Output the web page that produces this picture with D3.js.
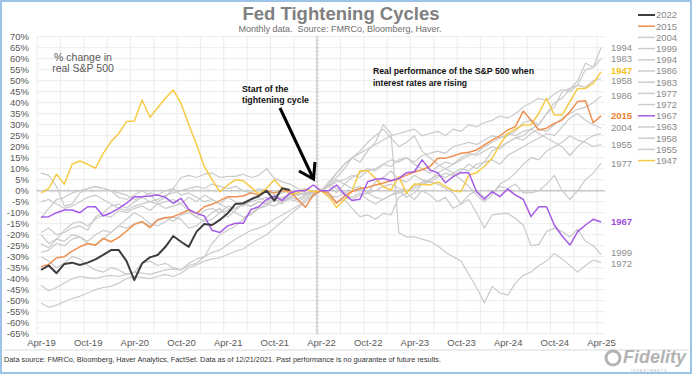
<!DOCTYPE html>
<html>
<head>
<meta charset="utf-8">
<script src="https://cdn.jsdelivr.net/npm/d3@7"></script>
<style>
  body { margin: 0; background: #fff; }
  text { font-family: Arial, "Liberation Sans", sans-serif; white-space: pre; }
</style>
</head>
<body>
<div id="main"></div>
<script>
// x ticks, every 6 months from Apr-19 (month index 0) to Apr-25 (month 72)
var xTickLabels = ["Apr-19", "Oct-19", "Apr-20", "Oct-20", "Apr-21", "Oct-21", "Apr-22",
                   "Oct-22", "Apr-23", "Oct-23", "Apr-24", "Oct-24", "Apr-25"];
var yTicks = d3.range(-65, 71, 5);

// real S&P 500 % change, monthly, cycle start aligned at month 36 (Apr-22)
var s2022 = [-36, -34, -37.5, -33.3, -32.7, -33.8, -32.7, -31.2, -29.2, -27, -27, -32, -40.6, -33, -30.3, -29.2, -25.5,
             -20.6, -23.2, -25.5, -18.6, -15.1, -15.6, -13.3, -10.3, -6, -5.7, -3.9, -2.4, 0, -4.5, 1.1, 0.3];
var s2015 = [-34.5, -33.5, -30.5, -30, -27.5, -25.5, -24, -24.7, -21.7, -23.2, -21.2, -18.3, -15.3, -14.1, -16.8, -13.3, -12.3, -11.8, -10.3,
             -8.8, -10.3, -7.3, -6.2, -4.5, -2.7, -2.7, -2.4, -1, -2, 0, -1, 0, 0, -4, -7.5, -2, 0,
             -1, -5.7, -2.5, -0.4, 1, 1.5, 2.6, 3.5, 4.5, 5.5, 7.1, 8.5, 9.5, 11, 14.7, 14.8, 15.8, 17, 17.5, 18.5,
             20.8, 23, 24.9, 27.6, 29.1, 36.2, 32.1, 27.6, 28.4, 30.6, 32.1, 35.9, 40.5, 40.9, 30.9, 34];
var s2004 = [8, 7, 2, -7, -6, -1, 1, 2, 1, 0, -3, -4, -2, 0, -2, -5, -3, 1, 6, 7, 6, 7.5, 8, 6, 6.5, 6.5, 7.5, 6, 7, 10, 5.6, 4, 3, 1, -1, -1, 0,
             -2, -3, -1, 0, 1, -1, 0, 2, 3, 1, 0, 2, 4, 5, 7, 6, 8, 10, 9, 12, 13, 14, 12, 16, 18, 20, 22, 24, 26, 25, 29, 33, 35, 32, 30, 28.5];
var s1999 = [-51, -53, -52, -50.5, -49, -48, -46.5, -45, -44, -43.5, -42, -40, -39, -39.5, -40, -39, -38, -39, -37.5, -35, -33.8, -32,
             -31, -30.5, -29, -27.5, -26.5, -24, -22, -20, -17, -14, -11, -8, -5, -2.5, 0,
             2, -1, 3, 1, 2, -1, 4, 6, 9, 5, 4, 7, 5, 4, 3, 1, -1, -6, -4, -10, -17, -11, -10.5, -10.3, -12.6, -15.6, -25, -24.5,
             -18.6, -17, -18.6, -21, -17.5, -23, -25, -29];
var s1994 = [-43, -45.5, -44, -42, -40, -39, -39.5, -40, -39, -38.5, -39, -38, -37, -37.5, -38, -37, -36, -35.5, -36, -33, -31, -30,
             -28, -27, -24.5, -22, -20, -18, -17, -15.5, -13, -11, -9, -7, -4, -2, 0,
             -3, -5, -3, -4, -2, -1, -3, -4, -2, -1, 0, 1, 3, 5, 8, 10, 12, 14, 16, 17, 20, 22, 24, 25, 27, 31, 32, 30, 35, 40, 42, 46, 50, 58, 56, 65];
var s1986 = [-24, -26, -22, -23, -20, -21, -24, -25, -22, -19, -16, -13, -10, -12, -15, -16, -14, -12, -13, -17, -16, -13, -10, -8, -12,
             -9, -6, -7, -5, -6, -3, -4, -2, 0, 1, -1, 0,
             2, 5, 3, 6, 8, 10, 9, 12, 14, 13, 15, 12, 10, 8, 11, 13, 12, 15, 17, 16, 18, 20, 19, 22, 24, 23, 26, 28, 27, 30, 33, 35, 37, 38, 40, 43];
var s1983 = [-30, -32, -35, -33, -30, -31, -34, -36, -37, -35, -36, -38, -37, -33, -32, -34, -33, -35, -36, -34, -33, -30, -24, -20, -18,
             -16, -13, -10, -8, -7, -4, -6, -3, -4, -2, -1, 0,
             3, 1, -2, -3, -1, -4, -6, -4, -2, 0, -3, -1, 3, 4, 6, 8, 7, 9, 12, 10, 13, 18, 20, 22, 24, 25, 28, 30, 35, 38, 45, 46.5, 48, 55, 56, 60];
var s1977 = [-5, -4, -6, -8, -7, -5, -3, -2, -4, -6, -8, -9, -7, -6, -5, -4, -2, -1, 0, 1, 2, 1, 3, 2, 1, 2, 0, -1, 1, 0, -2, -1, 0, -2, -1, -1, 0,
             -2, -5, -4, -8, -11.8, -11, -13, -10.3, -11, -3, -1, -4, 0, -2, -5, -3, -8, -6, -2, 0, -3, -1, 2, 1, 3, -1, -1, 0, 3, 7, 0, -4, 0, 5, 8, 12.4];
var s1972 = [-19, -17, -20, -19, -17, -16, -18, -12, -10, -7, -6, -8, -5, -3, -1, -2, 0, 1, -2, -1, -3, -5, -4, -6, -8, -10, -12, -11,
             -8, -6, -7, -5, -4, -5, -3, -2, 0,
             3, 8, 12, 15, 13, 18, 22, 30, 26, -19, -21, -21, -22, -23, -25, -28, -30, -32, -38, -44, -51, -43.5, -46.5, -47.5,
             -42, -38.5, -37, -34, -32, -28.5, -31, -34, -37, -34, -31.5, -32.7];
var s1967 = [-12, -11.8, -10, -8.8, -8.8, -10, -7.3, -7.3, -11.5, -10, -8, -5.7, -2.7, -2.7, -2.4, -2, -3, -5.7, -3.5, -8.5, -10.3, -11.5,
             -18, -19, -16, -14.8, -14.8, -8.5, -7.3, -4, -2.5, -4.5, -1, 0, 0, 2.6, 0,
             0, 2.6, -1.5, -4.5, -3.9, 4.1, 5.2, 5.6, 4.5, 5.6, 8.2, 8.6, 14, 9.4, 8.2, 3.6, 6.4, 8.2, 8.2, -0.5, -3.9, -0.4, -2.7, 0.8,
             -2, -3.9, -11.8, -7.3, -7.3, -15.6, -20.6, -24.7, -18.6, -15.6, -13, -14.2];
var s1963 = [-12.5, -8, -4, -3, -1, 0, 1, 2, 1, 0, -1, -2, -4, -3, -5, -6, -8, -7, -6, -9, -12, -14, -13, -10, -9, -8, -6, -5, -4, -3,
             -4, -3, -2, -2, -1, -1, 0,
             2, 4, 5, 7, 6, 9, 10, 12, 11, 14, 15, 13, 16, 17, 18, 17, 20, 21, 22, 21, 23, 25, 24, 26, 25, 27, 28, 26, 24, 22, 20, 16, 20, 23, 25, 26];
var s1958 = [-28, -27, -24, -25, -22, -21, -23, -20, -18, -19, -16, -17, -15, -14, -16, -13, -12, -14, -11, -10, -12, -9, -8, -10, -7,
             -8, -6, -7, -5, -6, -4, -5, -3, -4, -2, -1, 0,
             4, 8, 12, 15, 17, 19, 21, 23, 25, 26, 27, 28, 25, 26, 27, 25, 28, 27, 30, 29, 31, 32, 34, 33, 35, 38, 40, 42, 41, 44, 46, 45, 48, 47, 50, 51];
var s1955 = [-20, -24, -22, -18, -15, -14, -16, -13, -11, -12, -9, -10, -8, -7, -9, -6, -5, -4, -6, -3, -5, -2, -4, -6, -3, -5, -7, -4,
             -3, -5, -2, -4, -3, -1, -2, -1, 0,
             3, 6, 10, 15, 18, 22, 25, 28, 24, 20, 22, 25, 18, 15, 12, 10, 8, 5, 2, -2, -5, -2, 3, 5, 8, 12, 15, 14, 18, 20, 22, 25, 23, 22, 20, 21];
var s1947 = [-1, 1, 7.5, 3, 12, 13.5, 12, 10.2, 17, 22.3, 26, 31.4, 31.7, 41.2, 33.4, 37.7, 42, 45.8, 39.7, 30, 21, 11, 5, -0.5, 2.5,
             5, 4.5, 1.5, -1.5, 1, 5, 1, -1.5, -1, 0.5, -0.5, 0,
             -2.7, -7.6, -4.2, 0, 9.1, 9.1, 5.6, 1.8, 0.3, 6.4, -1.2, 3, 2.8, 2.6, 4, 2, 0, -0.5, 7.1, 8.2, 11, 14.7, 21, 26, 28, 29.9, 30,
             35.2, 42, 34.4, 34.4, 40.5, 46.5, 46.5, 48.8, 54];

var cycleNames = ["2022", "2015", "2004", "1999", "1994", "1986", "1983", "1977", "1972", "1967", "1963", "1958", "1955", "1947"];
var cycleValues = [s2022, s2015, s2004, s1999, s1994, s1986, s1983, s1977, s1972, s1967, s1963, s1958, s1955, s1947];

var grey = "#cacaca";
var colorOf = {"2022": "#3d3d3d", "2015": "#ef8f50", "1967": "#a55be6", "1947": "#f6ca45"};
var labelColorOf = {"2015": "#ed7d31", "1967": "#9f4fe0", "1947": "#f5c21a"};
// small vertical nudges so close end labels stay readable
var labelNudge = {"1947": -1.5, "1958": 2, "1999": -1.5, "1972": 1.5};

var width = 692, height = 374;

var svg = d3.select("#main").append("svg")
    .attr("width", width)
    .attr("height", height);

svg.append("rect").attr("width", width).attr("height", height).attr("fill", "#fff");

var x = d3.scaleLinear().domain([0, 72]).range([41, 601]);
var y = d3.scaleLinear().domain([-65, 70]).range([333.7, 36.7]);

// grid
var grid = svg.append("g");
grid.selectAll(".hgrid")
    .data(yTicks)
    .enter().append("line")
    .attr("x1", x(-0.5)).attr("x2", x(72.5))
    .attr("y1", function(d) { return y(d); })
    .attr("y2", function(d) { return y(d); })
    .attr("stroke", "#ececec").attr("stroke-width", 1);
grid.selectAll(".vgrid")
    .data(d3.range(-0.5, 72, 3))
    .enter().append("line")
    .attr("x1", function(d) { return x(d); })
    .attr("x2", function(d) { return x(d); })
    .attr("y1", y(70)).attr("y2", y(-65))
    .attr("stroke", "#ececec").attr("stroke-width", 1);

// zero line with month ticks
grid.append("line")
    .attr("x1", x(-0.5)).attr("x2", x(72.5))
    .attr("y1", y(0)).attr("y2", y(0))
    .attr("stroke", "#c8c8c8").attr("stroke-width", 1.5);
grid.selectAll(".mtick")
    .data(d3.range(-0.5, 72.5, 1))
    .enter().append("line")
    .attr("x1", function(d) { return x(d); })
    .attr("x2", function(d) { return x(d); })
    .attr("y1", y(0) - 2).attr("y2", y(0) + 2)
    .attr("stroke", "#cfcfcf").attr("stroke-width", 0.8);

// vertical axis at the cycle start
grid.append("line")
    .attr("x1", x(35.5)).attr("x2", x(35.5))
    .attr("y1", y(70)).attr("y2", y(-65))
    .attr("stroke", "#c8c8c8").attr("stroke-width", 1.2);
grid.selectAll(".vtick")
    .data(d3.range(-65, 70.1, 1.6875))
    .enter().append("line")
    .attr("x1", x(35.5) - 2).attr("x2", x(35.5) + 2)
    .attr("y1", function(d) { return y(d); })
    .attr("y2", function(d) { return y(d); })
    .attr("stroke", "#d2d2d2").attr("stroke-width", 0.8);

// axes
var yAxis = svg.append("g")
    .attr("transform", "translate(31,0)")
    .call(d3.axisLeft(y).tickValues(yTicks).tickSize(0).tickPadding(2)
        .tickFormat(function(d) { return d + "%"; }));
yAxis.select(".domain").remove();
yAxis.selectAll("text").attr("font-size", "9.5px").attr("fill", "#595959")
    .attr("font-family", "Arial, 'Liberation Sans', sans-serif");

var xAxis = svg.append("g")
    .attr("transform", "translate(0,336)")
    .call(d3.axisBottom(x).tickValues(d3.range(0, 73, 6)).tickSize(0).tickPadding(3)
        .tickFormat(function(d, i) { return xTickLabels[i]; }));
xAxis.select(".domain").remove();
xAxis.selectAll("text").attr("font-size", "9.5px").attr("fill", "#595959")
    .attr("font-family", "Arial, 'Liberation Sans', sans-serif");

// lines
var line = d3.line()
    .x(function(d, i) { return x(i); })
    .y(function(d) { return y(d); })
    .curve(d3.curveLinear);

var drawOrder = ["2004", "1999", "1994", "1986", "1983", "1977", "1972", "1963", "1958", "1955", "1947", "2015", "1967", "2022"];
svg.append("g").selectAll("path")
    .data(drawOrder)
    .enter().append("path")
    .attr("d", function(n) { return line(cycleValues[cycleNames.indexOf(n)]); })
    .attr("fill", "none")
    .attr("stroke", function(n) { return colorOf[n] || grey; })
    .attr("stroke-width", function(n) { return n === "2022" ? 2 : (colorOf[n] ? 1.5 : 1.2); })
    .attr("stroke-linejoin", "round");

// end labels
var endLabels = svg.append("g");
cycleNames.forEach(function(n, i) {
    var vals = cycleValues[i];
    if (n === "2022" || n === "1963") return;
    endLabels.append("text")
        .attr("x", 611)
        .attr("y", y(vals[vals.length - 1]) + (labelNudge[n] || 0))
        .attr("dy", "0.35em")
        .attr("font-size", "9.5px")
        .attr("font-weight", labelColorOf[n] ? "bold" : "normal")
        .attr("fill", labelColorOf[n] || "#8c8c8c")
        .text(n);
});

// legend
var legend = svg.append("g");
cycleNames.forEach(function(n, i) {
    var ly = 15 + i * 11.2;
    legend.append("line")
        .attr("x1", 638).attr("x2", 655)
        .attr("y1", ly).attr("y2", ly)
        .attr("stroke", colorOf[n] || "#cdcdcd")
        .attr("stroke-width", n === "2022" ? 2 : 1.5);
    legend.append("text")
        .attr("x", 656).attr("y", ly).attr("dy", "0.35em")
        .attr("font-size", "9.5px").attr("fill", "#8a8a8a")
        .text(n);
});

// titles
svg.append("text").attr("x", 341).attr("y", 20)
    .attr("text-anchor", "middle").attr("font-size", "18.5px").attr("font-weight", "bold")
    .attr("fill", "#808080").text("Fed Tightening Cycles");
svg.append("text").attr("x", 340).attr("y", 32)
    .attr("text-anchor", "middle").attr("font-size", "9px")
    .attr("fill", "#6e6e6e").text("Monthly data.  Source: FMRCo, Bloomberg, Haver.");

// annotations
svg.append("text").attr("x", 83).attr("y", 60.5).attr("text-anchor", "middle")
    .attr("font-size", "10.5px").attr("fill", "#595959").text("% change in");
svg.append("text").attr("x", 83).attr("y", 72).attr("text-anchor", "middle")
    .attr("font-size", "10.5px").attr("fill", "#595959").text("real S&P 500");

svg.append("text").attr("x", 242).attr("y", 92).attr("font-size", "8.8px")
    .attr("font-weight", "bold").attr("fill", "#111").text("Start of the");
svg.append("text").attr("x", 242).attr("y", 103).attr("font-size", "8.8px")
    .attr("font-weight", "bold").attr("fill", "#111").text("tightening cycle");

svg.append("text").attr("x", 373).attr("y", 73.5).attr("font-size", "8.5px")
    .attr("font-weight", "bold").attr("fill", "#111")
    .attr("textLength", 161).attr("lengthAdjust", "spacingAndGlyphs")
    .text("Real performance of the S&P 500 when");
svg.append("text").attr("x", 373).attr("y", 85.5).attr("font-size", "8.5px")
    .attr("font-weight", "bold").attr("fill", "#111").text("interest rates are rising");

// arrow
svg.append("path").attr("d", "M280,108 L313,178")
    .attr("stroke", "#000").attr("stroke-width", 3).attr("fill", "none");
svg.append("path").attr("d", "M299,171 L313.5,179 L315,162")
    .attr("stroke", "#000").attr("stroke-width", 3).attr("fill", "none")
    .attr("stroke-linejoin", "miter");

// footer
svg.append("line").attr("x1", 3).attr("x2", 689).attr("y1", 350).attr("y2", 350)
    .attr("stroke", "#d9d9d9").attr("stroke-width", 1);
svg.append("text").attr("x", 4).attr("y", 362).attr("font-size", "7.5px")
    .attr("fill", "#333").attr("textLength", 437).attr("lengthAdjust", "spacingAndGlyphs")
    .text("Data source: FMRCo, Bloomberg, Haver Analytics, FactSet. Data as of 12/21/2021. Past performance is no guarantee of future results.");

// Fidelity mark
var logo = svg.append("g").attr("fill", "#b3b3b3");
logo.append("circle").attr("cx", 613).attr("cy", 358).attr("r", 7).attr("fill", "none")
    .attr("stroke", "#b3b3b3").attr("stroke-width", 3);
logo.append("text").attr("x", 623).attr("y", 363).attr("font-size", "18px")
    .attr("font-weight", "bold").attr("font-style", "italic").text("Fidelity");
logo.append("text").attr("x", 631).attr("y", 371.5).attr("font-size", "3.6px")
    .attr("letter-spacing", "1px").text("INVESTMENTS");

// outer frame
svg.append("rect").attr("x", 1).attr("y", 1).attr("width", width - 2).attr("height", height - 2)
    .attr("fill", "none").attr("stroke", "#9dc3e6").attr("stroke-width", 2);
</script>
</body>
</html>
